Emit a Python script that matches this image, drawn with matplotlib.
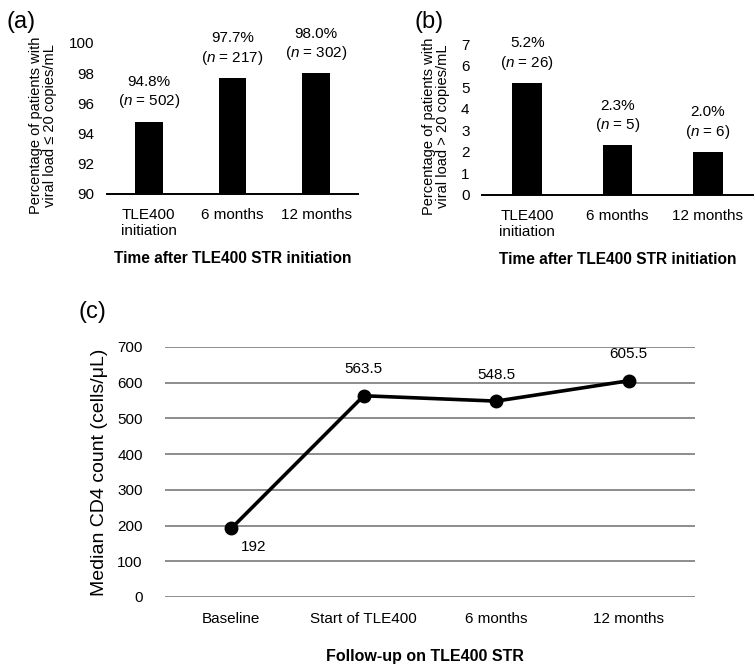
import matplotlib
matplotlib.use("Agg")
import matplotlib.pyplot as plt
from matplotlib import font_manager

names = {f.name for f in font_manager.fontManager.ttflist}
narrow = "Liberation Sans Narrow" if "Liberation Sans Narrow" in names else "Liberation Sans"

plt.rcParams['font.family'] = ['Liberation Sans', 'DejaVu Sans']
plt.rcParams['mathtext.fontset'] = 'custom'
plt.rcParams['mathtext.it'] = 'Liberation Sans:italic'
plt.rcParams['mathtext.rm'] = 'Liberation Sans'

# Data
cats_ab = ["TLE400\ninitiation", "6 months", "12 months"]
pct_suppressed = [94.8, 97.7, 98.0]
n_suppressed = [502, 217, 302]
pct_viremic = [5.2, 2.3, 2.0]
n_viremic = [26, 5, 6]
cats_c = ["Baseline", "Start of TLE400", "6 months", "12 months"]
cd4_median = [192, 563.5, 548.5, 605.5]
cd4_labels = ["192", "563.5", "548.5", "605.5"]

W, H = 7.55, 6.65
fig = plt.figure(figsize=(W, H), dpi=100)

def bar_panel(ax, vals, ns, ylim, yticks, ylabel, label_x):
    x = list(range(len(vals)))
    ax.bar(x, [v - ylim[0] for v in vals], bottom=ylim[0], width=0.33, color='black')
    ax.set_ylim(*ylim)
    ax.set_xlim(-0.5, len(vals) - 0.5)
    ax.set_yticks(yticks)
    ax.set_xticks(x)
    ax.set_xticklabels(cats_ab, fontsize=11, va='top', linespacing=1.2)
    ax.tick_params(axis='both', length=0, labelsize=11)
    ax.tick_params(axis='y', pad=9)
    ax.tick_params(axis='x', pad=10)
    for s in ['top', 'right', 'left']:
        ax.spines[s].set_visible(False)
    ax.spines['bottom'].set_linewidth(1.4)
    ax.set_ylabel(ylabel, fontsize=10.5, linespacing=1.0)
    ax.yaxis.set_label_coords(label_x, 0.455)
    ax.set_xlabel("Time after TLE400 STR initiation", fontsize=11.2, fontweight='bold', labelpad=9)
    for xi, v, n in zip(x, vals, ns):
        ax.annotate(f"{v:.1f}%\n($\\it{{n}}$ = {n})", (xi, v), xytext=(0, 8),
                    textcoords='offset points', ha='center', va='bottom', fontsize=11,
                    linespacing=1.25, annotation_clip=False)

ax_a = fig.add_axes([107 / 755, 1 - 194 / 665, 251 / 755, 151 / 665])
bar_panel(ax_a, pct_suppressed, n_suppressed, (90, 100), range(90, 101, 2),
          "Percentage of patients with\nviral load \u2264 20 copies/mL", (57 - 107) / 251)

ax_b = fig.add_axes([482 / 755, 1 - 195 / 665, 271 / 755, 151 / 665])
bar_panel(ax_b, pct_viremic, n_viremic, (0, 7), range(0, 8),
          "Percentage of patients with\nviral load > 20 copies/mL", (450 - 482) / 271)

ax_c = fig.add_axes([165 / 755, 1 - 597 / 665, 530 / 755, 250 / 665])
xc = list(range(len(cd4_median)))
ax_c.plot(xc, cd4_median, color='black', lw=2.6, marker='o', markersize=9, zorder=3)
ax_c.set_ylim(0, 700)
ax_c.set_xlim(-0.5, len(xc) - 0.5)
ax_c.set_yticks(range(0, 701, 100))
ax_c.set_xticks(xc)
ax_c.set_xticklabels(cats_c, fontsize=11, family=narrow)
for lab in ax_c.get_yticklabels():
    lab.set_family(narrow)
ax_c.tick_params(axis='both', length=0, labelsize=11)
ax_c.tick_params(axis='y', pad=16)
ax_c.tick_params(axis='x', pad=11)
ax_c.grid(axis='y', color='#8c8c8c', lw=1.4)
ax_c.set_axisbelow(True)
for s in ['top', 'right', 'left', 'bottom']:
    ax_c.spines[s].set_visible(False)
ax_c.set_ylabel("Median CD4 count (cells/\u03bcL)", fontsize=14)
ax_c.yaxis.set_label_coords((108 - 165) / 530, 0.5)
ax_c.set_xlabel("Follow-up on TLE400 STR", fontsize=11.5, fontweight='bold', family=narrow, va='center')
ax_c.xaxis.set_label_coords((425 - 165) / 530, (597 - 657) / 250)
for i, (v, t) in enumerate(zip(cd4_median, cd4_labels)):
    if i == 0:
        ax_c.annotate(t, (i, v), xytext=(7, -8), textcoords='offset points',
                      ha='left', va='top', fontsize=11, family=narrow)
    else:
        ax_c.annotate(t, (i, v), xytext=(0, 14), textcoords='offset points',
                      ha='center', va='bottom', fontsize=11, family=narrow)

fig.text(6 / 755, 1 - 22 / 665, "(a)", fontsize=17, va='center', ha='left')
fig.text(415 / 755, 1 - 22 / 665, "(b)", fontsize=17, va='center', ha='left')
fig.text(79 / 755, 1 - 312 / 665, "(c)", fontsize=17, va='center', ha='left')

fig.savefig("out.png", dpi=100)
